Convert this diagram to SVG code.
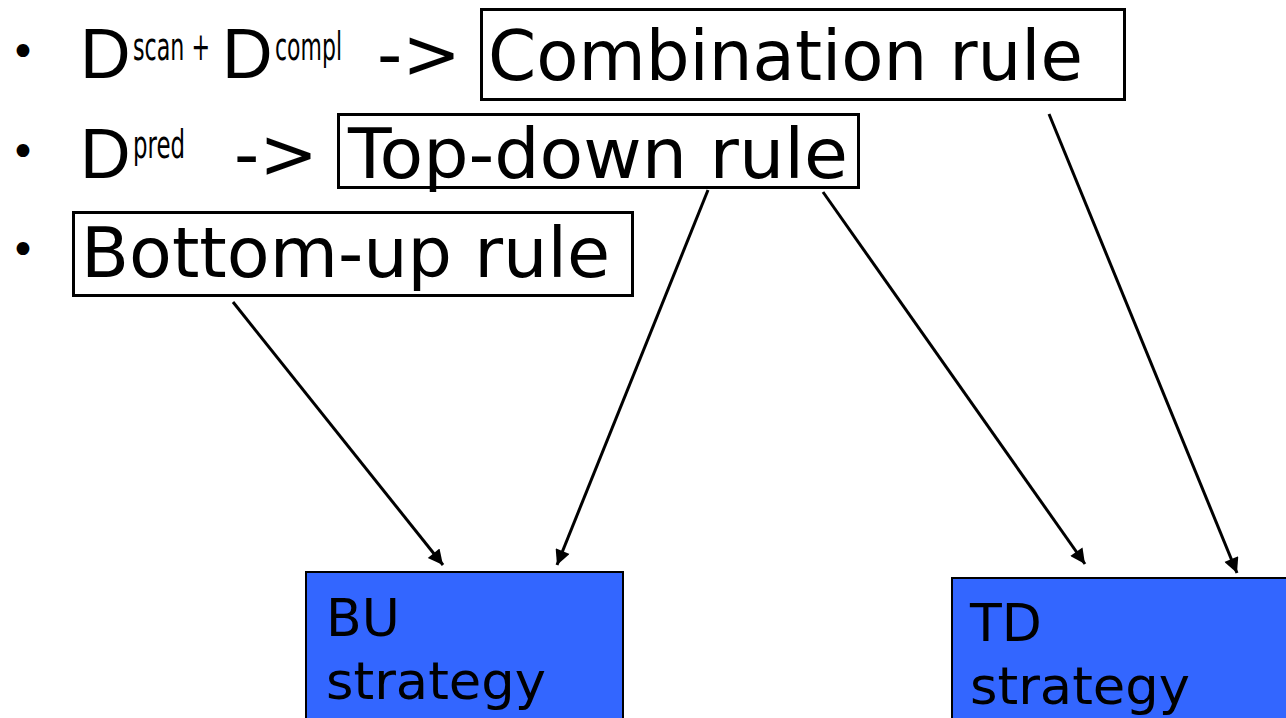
<svg xmlns="http://www.w3.org/2000/svg" width="1286" height="718" viewBox="0 0 1286 718">
<style>
.t{font-family:"DejaVu Sans",Verdana,sans-serif;fill:#000}
.d{font-family:"Liberation Sans",Arial,sans-serif;font-size:70px;fill:#000}
.s{font-family:"Liberation Sans Narrow","DejaVu Sans Condensed",sans-serif;font-size:28px;fill:#000}
.box{fill:#fff;stroke:#000;stroke-width:3}
.strat{fill:#3366FF;stroke:#000;stroke-width:2}
.c{stroke:#000;stroke-width:3;fill:none;marker-end:url(#ah)}
</style>
<defs>
<marker id="ah" viewBox="0 0 10 10" refX="10" refY="5" markerWidth="5.5" markerHeight="5" orient="auto" markerUnits="strokeWidth">
<path d="M0,0 L10,5 L0,10 z" fill="#000"/>
</marker>
</defs>
<rect width="1286" height="718" fill="#fff"/>
<g id="line1">
<text class="t" x="10" y="67" font-size="44">•</text>
<text class="d" x="80" y="78">D</text>
<text class="s" transform="translate(133,60) scale(1,1.38)" textLength="77" lengthAdjust="spacingAndGlyphs">scan +</text>
<text class="d" x="222" y="78">D</text>
<text class="s" transform="translate(275,60) scale(1,1.38)" textLength="67" lengthAdjust="spacingAndGlyphs">compl</text>
<text class="t" x="377" y="78" font-size="70">-&gt;</text>
</g>
<g id="combination">
<rect class="box" x="481.5" y="9.5" width="643" height="90"/>
<text class="t" x="488" y="80" font-size="70" textLength="595" lengthAdjust="spacingAndGlyphs">Combination rule</text>
</g>
<g id="line2">
<text class="t" x="10" y="167" font-size="44">•</text>
<text class="d" x="80" y="178">D</text>
<text class="s" transform="translate(133,158) scale(1,1.38)" textLength="52" lengthAdjust="spacingAndGlyphs">pred</text>
<text class="t" x="234" y="178" font-size="70">-&gt;</text>
</g>
<g id="topdown">
<rect class="box" x="338.5" y="114.5" width="520" height="73"/>
<text class="t" x="348" y="178" font-size="70" textLength="500" lengthAdjust="spacingAndGlyphs">Top-down rule</text>
</g>
<g id="line3">
<text class="t" x="10" y="265" font-size="44">•</text>
</g>
<g id="bottomup">
<rect class="box" x="73.5" y="212.5" width="559" height="83"/>
<text class="t" x="81" y="277" font-size="70" textLength="529" lengthAdjust="spacingAndGlyphs">Bottom-up rule</text>
</g>
<g id="bu">
<rect class="strat" x="306" y="572" width="317" height="160"/>
<text class="t" x="326" y="636" font-size="52">BU</text>
<text class="t" x="326" y="699" font-size="52" textLength="220" lengthAdjust="spacingAndGlyphs">strategy</text>
</g>
<g id="td">
<rect class="strat" x="952" y="578" width="340" height="160"/>
<text class="t" x="970" y="641" font-size="52">TD</text>
<text class="t" x="970" y="704" font-size="52" textLength="220" lengthAdjust="spacingAndGlyphs">strategy</text>
</g>
<g id="connectors">
<line class="c" x1="233" y1="302" x2="443" y2="565"/>
<line class="c" x1="708" y1="190" x2="557" y2="565"/>
<line class="c" x1="823" y1="192" x2="1085" y2="564"/>
<line class="c" x1="1049" y1="114" x2="1237" y2="573"/>
</g>
</svg>
